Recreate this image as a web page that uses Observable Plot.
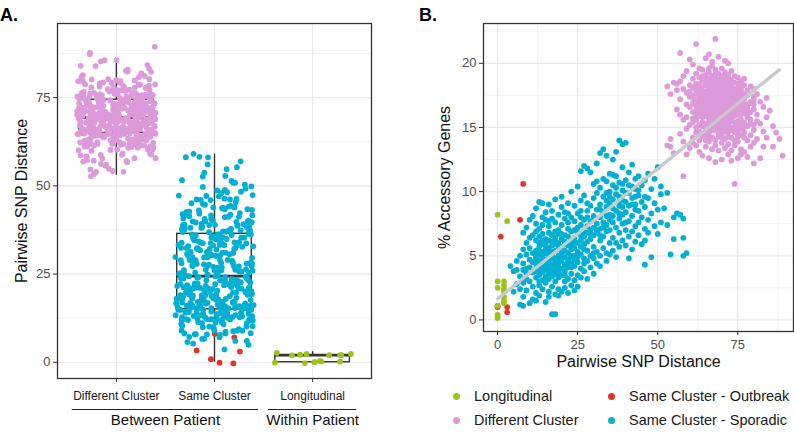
<!DOCTYPE html>
<html><head><meta charset="utf-8">
<script src="https://cdn.jsdelivr.net/npm/d3@7"></script>
<script src="https://cdn.jsdelivr.net/npm/@observablehq/plot@0.6"></script>
<style>
body{margin:0;background:#fff;font-family:"Liberation Sans",Arial,sans-serif;}
#wrap{position:relative;width:794px;height:436px;overflow:hidden;background:#fff;}
.lg{position:absolute;left:453px;top:384px;display:grid;grid-template-columns:155px auto;grid-template-rows:24px 24px;grid-auto-flow:column;font-size:14.5px;color:#1a1a1a;}
.lg div{display:flex;align-items:center;height:24px;white-space:nowrap;}
.lg span.d{display:inline-block;width:7px;height:7px;border-radius:50%;margin-right:14px;}
.pl{position:absolute;font-weight:bold;font-size:18px;line-height:1;color:#000;}
</style></head><body><div id="wrap"></div>
<script>
// ---------------- data ----------------
const categories = ["Different Cluster", "Same Cluster", "Longitudinal"];
const groupLabels = ["Between Patient", "Within Patient"];
const groupFrom = ["Different Cluster", "Longitudinal"];
const groupTo = ["Same Cluster", "Longitudinal"];
const seriesNames = ["Longitudinal", "Different Cluster", "Same Cluster - Outbreak", "Same Cluster - Sporadic"];
const seriesCategory = ["Longitudinal", "Different Cluster", "Same Cluster", "Same Cluster"];

// boxplot statistics (Pairwise SNP distance) per category
const boxLow = [53, 0, 0];
const boxQ1 = [65, 15, 0];
const boxMedian = [69.3, 24.4, 2];
const boxQ3 = [74.4, 36.4, 2];
const boxHigh = [86, 59, 3];

// fitted line in panel B
const fitSnp = [0, 88];
const fitAcc = [1.63, 19.5];

// [pairwise SNP distance, % accessory genes]
const longitudinal = [[0,8.2],[0,3.0],[0,2.5],[0,1.1],[0,0.4],[0,0.3],[0,0.15],[2,3.0],[2,2.7],[2,2.4],[2,2.2],[2,1.8],[2,1.5],[2,1.3],[3,7.7]];
const sameClusterOutbreak = [[0,1.1],[0,1.0],[1,6.5],[3,1.0],[3,0.6],[7,7.8],[8,10.6]];
const differentCluster = [
[53,18.2],[53,13.6],[54,17.6],[54,14.1],[55,18.5],[55,13.0],[56,16.4],[56,17.9],[54,13.5],[56,18.4],
[57,20.8],[57,17.2],[57,14.5],[58,11.2],[58,18.0],[58,15.6],[58,13.9],[59,19.4],[59,16.8],[59,14.9],[59,17.7],[60,20.3],[60,15.2],[60,18.3],[60,13.4],[57,16.0],[58,19.0],[59,12.9],[60,16.6],[57,18.6],[60,17.4],[59,15.8],
[61,16.9],[61,18.8],[61,14.2],[61,17.5],[61,15.7],[62,21.5],[62,17.1],[62,13.6],[62,18.4],[62,16.3],[62,15.0],[63,19.6],[63,16.8],[63,14.7],[63,18.0],[63,17.3],[63,13.1],[64,19.0],[64,16.1],[64,15.4],[64,17.8],[64,18.7],[64,14.3],[61,19.9],[62,16.7],[63,15.9],[64,16.9],[61,13.8],[62,19.2],[63,17.7],[64,12.8],[61,16.2],[62,14.6],[63,18.9],[64,17.2],[63,16.0],[62,17.9],[64,15.8],[61,18.1],[63,15.2],
[65,17.4],[65,15.9],[65,19.1],[65,14.4],[65,16.7],[65,18.3],[65,13.5],[65,17.0],[65,16.2],[65,15.1],[65,18.8],[65,16.4],[65,20.4],[65,14.9],[65,17.8],
[66,20.7],[66,16.6],[66,18.1],[66,15.3],[66,17.2],[66,13.9],[66,16.0],[66,19.3],[66,17.7],[66,14.6],[66,16.9],[66,18.5],[66,15.7],[66,12.6],[66,17.5],[66,16.3],
[67,19.8],[67,16.4],[67,17.9],[67,15.0],[67,18.6],[67,14.2],[67,16.8],[67,17.3],[67,13.3],[67,20.1],[67,15.6],[67,18.2],[67,16.1],[67,17.6],[67,19.0],
[68,21.9],[68,17.0],[68,15.5],[68,18.7],[68,16.5],[68,14.0],[68,19.5],[68,17.4],[68,15.8],[68,13.6],[68,18.0],[68,16.7],[68,17.8],[68,12.3],[68,16.0],[68,18.9],
[69,17.2],[69,15.4],[69,18.4],[69,16.6],[69,14.3],[69,19.2],[69,16.0],[69,17.7],[69,15.0],[69,18.0],[69,13.2],[69,16.9],[69,20.5],[69,17.4],[69,15.8],[69,16.3],
[70,16.8],[70,18.6],[70,14.8],[70,17.3],[70,15.6],[70,19.6],[70,16.2],[70,17.9],[70,13.8],[70,18.3],[70,15.1],[70,16.5],[70,12.5],[70,17.1],[70,19.0],[70,16.0],[70,14.4],
[71,17.6],[71,15.3],[71,18.8],[71,16.4],[71,14.1],[71,17.0],[71,19.3],[71,15.9],[71,16.9],[71,18.1],[71,13.4],[71,17.4],[71,15.6],[71,16.1],[71,20.2],[71,14.7],
[72,20.0],[72,16.7],[72,18.5],[72,15.2],[72,17.2],[72,13.7],[72,16.3],[72,18.9],[72,14.9],[72,17.7],[72,16.0],[72,15.5],[72,12.9],[72,17.9],[72,16.5],[72,19.1],[72,14.3],
[73,16.9],[73,18.2],[73,15.0],[73,17.5],[73,14.2],[73,16.3],[73,19.4],[73,15.7],[73,17.1],[73,13.2],[73,16.6],[73,18.7],[73,12.4],
[74,17.3],[74,15.4],[74,18.0],[74,16.1],[74,10.6],[74,14.6],[74,17.8],[74,16.8],[74,13.6],[74,19.0],[74,15.9],[74,17.0],[74,14.0],
[75,16.4],[75,18.4],[75,15.2],[75,17.4],[75,13.9],[75,16.0],[75,18.9],[75,14.7],[75,17.1],[75,12.6],[75,16.7],[75,15.5],[75,17.9],
[76,17.6],[76,15.0],[76,18.1],[76,16.2],[76,14.4],[76,17.0],[76,13.3],[76,16.6],[76,18.6],[76,15.6],[76,12.9],[76,17.3],[76,14.9],
[77,16.1],[77,18.3],[77,14.6],[77,17.2],[77,15.4],[77,13.1],[77,16.8],[77,18.8],
[78,15.8],[78,17.5],[78,14.0],[78,16.5],[78,12.7],[78,17.9],[78,15.1],
[79,16.9],[79,14.4],[79,18.2],[79,15.6],[79,13.5],[79,17.0],[79,16.2],
[80,15.2],[80,17.4],[80,13.8],[80,16.4],[80,12.2],[80,18.0],[80,14.8],[80,16.8],
[81,16.0],[81,14.1],[81,17.6],[82,15.3],[82,12.6],[82,17.0],[83,16.6],[83,14.7],[83,13.5],[84,15.8],[84,17.3],[84,14.2],
[85,16.3],[86,13.5],[86,15.1],[87,14.6],[88,14.1],[89,12.8],
[62,17.6],[63,16.4],[64,18.2],[65,16.0],[66,17.0],[67,15.4],[68,16.9],[69,17.9],[70,15.9],[71,16.6],
[72,17.4],[73,15.5],[74,16.5],[75,17.7],[76,16.0],[77,15.0],[63,18.4],[64,15.1],[65,17.3],[66,18.8],
[67,16.6],[68,14.8],[69,16.1],[70,18.1],[71,17.2],[72,15.8],[73,17.9],[74,15.0],[75,16.2],[76,18.3],
[62,15.6],[63,17.1],[64,16.6],[65,18.5],[66,15.5],[67,17.1],[68,18.3],[69,15.6],[70,17.0],[71,14.9],[72,16.9],[73,16.1],[74,18.5],[75,15.0],[76,16.9],[77,17.6],[78,16.1],
[66,16.1],[67,18.9],[68,15.2],[69,18.7],[70,16.4],[71,18.4],[72,14.6],[73,17.2],[74,16.3],[75,14.3],
[65,15.3],[66,19.6],[67,14.8],[68,17.6],[69,14.6],[70,17.6],[71,16.0],[72,18.2],[73,14.8],
[64,17.5],[65,16.9],[66,14.3],[67,17.8],[68,16.2],[69,17.0],[70,15.3],[71,17.9],[72,15.0],
[60,17.8],[61,15.4],[62,18.1],[78,16.8],[79,15.3],[80,17.1],[81,15.5],[77,14.2],[76,15.3],
[66,17.9],[67,16.3],[68,19.2],[69,15.3],[70,18.8],[71,15.7],[72,16.1],[73,18.6],
[65,14.0],[64,19.5],[63,14.0],[69,16.7],[70,14.2],[71,19.0],[68,15.1],[67,15.9],[66,16.8],
[74,17.5],[75,18.1],[73,15.9],[72,17.0],[71,16.8],[70,16.9],[69,18.5],[68,17.2],[67,18.4],[66,15.0],[65,17.6],[64,16.3],[63,17.0],[62,16.0],[61,17.3],
[74,14.8],[75,16.8],[76,17.9],[77,16.4]
];
const sameClusterSporadic = [
[4,4.2],[5,3.8],[5,2.2],[6,3.9],[6,2.8],[6,4.6],[7,1.2],[7,3.4],[7,5.0],[7,2.4],
[8,1.8],[8,3.9],[8,5.5],[8,2.9],[8,6.8],[8,4.4],[8,1.1],[9,3.2],[9,5.1],[9,4.0],[9,7.2],[9,2.3],[9,6.0],[9,3.6],
[10,4.7],[10,1.3],[10,6.4],[10,3.0],[10,5.6],[10,7.8],[10,4.1],[11,8.1],[11,3.7],[11,5.2],[11,2.6],[11,6.6],[11,4.5],[11,1.6],
[12,4.0],[12,6.9],[12,2.1],[12,5.4],[12,3.3],[12,7.5],[12,4.8],[12,1.5],[12,6.2],[12,3.8],[12,5.0],[12,8.7],
[13,4.3],[13,6.0],[13,2.7],[13,5.7],[13,3.5],[13,7.1],[13,4.6],[13,9.2],[13,3.0],[13,6.5],[13,5.1],[13,1.9],[13,4.0],
[14,5.3],[14,3.1],[14,6.7],[14,4.2],[14,8.0],[14,2.4],[14,5.9],[14,3.7],[14,7.4],[14,4.9],[14,9.1],[14,4.5],
[15,4.1],[15,6.3],[15,2.9],[15,5.5],[15,3.4],[15,7.8],[15,4.7],[15,1.4],[15,6.0],[15,3.9],[15,5.2],[15,8.4],[15,4.4],
[16,4.6],[16,6.8],[16,3.2],[16,5.6],[16,2.2],[16,7.3],[16,4.0],[16,5.1],[16,9.0],[16,3.6],[16,6.2],[16,4.9],[16,1.8],
[17,0.45],[17,5.3],[17,3.8],[17,6.6],[17,4.3],[17,7.9],[17,2.6],[17,5.8],[17,3.4],[17,4.8],[17,8.5],[17,6.1],
[18,0.45],[18,4.5],[18,6.9],[18,3.0],[18,5.4],[18,4.1],[18,7.6],[18,2.0],[18,5.9],[18,3.6],[18,9.4],[18,4.8],[18,6.4],
[19,5.0],[19,3.3],[19,7.0],[19,4.4],[19,6.0],[19,2.4],[19,8.2],[19,5.5],[19,3.9],[19,4.7],[19,6.7],[19,1.9],
[20,5.2],[20,7.4],[20,3.5],[20,4.6],[20,6.3],[20,2.2],[20,8.8],[20,5.7],[20,4.0],[20,9.6],
[21,4.3],[21,6.6],[21,3.0],[21,5.4],[21,7.9],[21,4.9],[21,2.5],[21,6.1],[21,3.8],[21,8.4],
[22,5.8],[22,4.1],[22,7.1],[22,3.2],[22,6.5],[22,4.7],[22,9.1],[22,5.2],[22,2.1],[22,7.6],
[23,4.4],[23,6.9],[23,3.6],[23,5.5],[23,8.0],[23,4.9],[23,2.7],[23,6.2],[23,10.0],[23,5.0],
[24,5.6],[24,7.7],[24,4.2],[24,6.4],[24,3.1],[24,8.9],[24,5.0],[24,2.3],[24,7.0],
[25,6.0],[25,4.5],[25,8.3],[25,5.3],[25,10.4],[25,3.5],[25,6.8],[25,4.9],[25,2.6],
[26,5.7],[26,7.4],[26,4.0],[26,9.3],[26,6.2],[26,3.3],[26,8.0],[26,5.1],[26,11.6],
[27,12.0],[27,6.5],[27,4.4],[27,7.8],[27,5.5],[27,9.7],[27,3.8],[27,6.9],[27,4.8],
[28,6.1],[28,8.5],[28,4.6],[28,7.3],[28,11.8],[28,5.4],[28,3.2],[28,9.1],
[29,7.0],[29,5.0],[29,8.9],[29,6.3],[29,11.5],[29,4.1],[29,7.7],
[30,6.6],[30,9.5],[30,4.8],[30,8.1],[30,5.7],[30,10.6],[30,3.6],[30,7.2],
[31,7.5],[31,5.3],[31,9.9],[31,6.8],[31,8.6],[31,4.4],[31,12.2],
[32,8.0],[32,6.2],[32,10.3],[32,5.0],[32,9.0],[32,7.1],[32,13.0],[32,4.2],
[33,13.3],[33,7.6],[33,9.6],[33,5.6],[33,8.4],[33,11.0],[33,6.5],
[34,8.8],[34,6.9],[34,10.8],[34,5.2],[34,9.3],[34,7.4],[34,12.8],[34,4.6],
[35,9.1],[35,7.0],[35,11.4],[35,6.0],[35,8.2],[35,10.0],[35,5.1],
[36,8.7],[36,6.4],[36,10.5],[36,7.6],[36,12.5],[36,5.4],[36,9.4],
[37,9.8],[37,7.2],[37,11.2],[37,6.0],[37,8.5],[37,13.1],[37,4.9],
[38,14.0],[38,8.9],[38,6.8],[38,10.7],[38,7.9],[38,9.6],[38,5.7],
[39,10.1],[39,7.5],[39,11.9],[39,6.2],[39,8.8],[39,9.3],[39,13.7],
[40,13.8],[40,9.2],[40,7.0],[40,10.9],[40,5.8],[40,8.4],
[41,9.9],[41,7.7],[41,11.5],[41,6.5],[41,8.9],[41,4.8],
[42,10.4],[42,8.1],[42,12.1],[42,6.9],[42,9.5],[42,5.5],
[43,9.0],[43,7.3],[43,11.0],[43,10.2],[43,6.1],[43,8.6],
[44,9.7],[44,7.6],[44,11.2],[44,6.6],[44,8.5],[45,10.5],[45,8.0],[45,5.9],[45,9.2],
[46,4.3],[46,8.8],[46,10.9],[46,7.1],[46,6.2],[47,9.5],[47,7.8],[47,11.4],[47,6.8],
[48,4.9],[48,8.3],[48,10.2],[49,9.1],[49,7.3],[49,11.0],[50,11.9],[50,8.6],[50,6.7],[51,9.8],[51,7.6],[51,10.4],
[52,8.7],[53,7.4],[53,9.9],[54,5.1],[55,8.0],[55,6.3],
[56,8.3],[57,8.2],[58,7.9],[58,6.4],[58,5.0],[59,5.2],
[12,4.4],[13,5.3],[14,3.9],[15,5.8],[16,4.3],[17,5.0],[18,3.9],[19,5.8],[20,4.8],[21,5.9],[22,4.5],[23,5.8],[24,4.7],[25,7.2],[26,6.6],[27,5.9],[14,6.2],[15,3.2],[16,5.4],[17,4.1],[18,6.1],[19,4.1],[20,6.7],[21,3.5],[22,6.0],[23,4.1],[13,3.8],[16,7.7],[19,3.6],[22,8.3],
[28,8.0],[29,6.7],[30,7.8],[31,7.0],[32,8.6],[33,7.2],[34,8.1],[35,9.6],[36,8.1],[37,10.3],[38,9.2],[39,8.2],[40,9.9],[41,10.5],[42,9.0],[43,9.6],[30,5.2],[32,6.6],[34,9.9],[36,11.3],[38,8.3],[40,7.6],[26,8.5],[24,6.0],[28,6.8],[31,10.8],[35,7.8],[39,10.6],[44,10.1],[46,9.6]
];

// ---------------- styling ----------------
const seriesColors = ["#9CC31B", "#DC9ADA", "#E4322A", "#00AFD2"];
const FONT = "Liberation Sans, Arial, Helvetica, sans-serif";
const gridMajor = "#e7e7ec", gridMinor = "#f0f0f3", ink = "#333333";

// ---------------- table ----------------
const seriesData = {"Longitudinal": longitudinal, "Different Cluster": differentCluster,
  "Same Cluster - Outbreak": sameClusterOutbreak, "Same Cluster - Sporadic": sameClusterSporadic};
const drawOrder = ["Same Cluster - Outbreak", "Longitudinal", "Same Cluster - Sporadic", "Different Cluster"];
// deterministic jitter offsets (layout only, like geom_jitter with width/height 0.4)
const hash = (i, s) => { const v = Math.sin(i * 12.9898 + s * 78.233) * 43758.5453; return v - Math.floor(v); };
const rows = [];
for (const s of drawOrder) {
  const cat = categories.indexOf(seriesCategory[seriesNames.indexOf(s)]) + 1;
  for (const [snp, acc] of seriesData[s]) {
    const i = rows.length + 1;
    rows.push({series: s, cat, snp, acc, jx: cat + (hash(i, 1) - 0.5) * 0.8, jy: snp + (hash(i, 2) - 0.5) * 0.8});
  }
}
const boxes = categories.map((c, i) => ({x: i + 1, low: boxLow[i], q1: boxQ1[i], med: boxMedian[i], q3: boxQ3[i], high: boxHigh[i]}));
const groups = groupLabels.map((g, i) => {
  const a = categories.indexOf(groupFrom[i]) + 1, b = categories.indexOf(groupTo[i]) + 1;
  return {label: g, x1: a - 0.45, x2: b + 0.45, mid: (a + b) / 2};
});
const fit = fitSnp.map((x, i) => ({snp: x, acc: fitAcc[i]}));
const color = {domain: seriesNames, range: seriesColors};

const wrap = document.getElementById("wrap");

// ---------------- Panel A ----------------
const yA = [-4.6, 96];
const plotA = Plot.plot({
  width: 380, height: 436, marginLeft: 57, marginRight: 9, marginTop: 23, marginBottom: 58,
  style: {fontFamily: FONT, background: "transparent", overflow: "visible"},
  x: {domain: [0.4, 3.6], label: null},
  y: {domain: yA, label: null},
  color,
  marks: [
    Plot.ruleY([12.5, 37.5, 62.5, 87.5], {stroke: gridMinor, strokeWidth: 0.8}),
    Plot.ruleY([0, 25, 50, 75], {stroke: gridMajor, strokeWidth: 1.2}),
    Plot.ruleX([1, 2, 3], {stroke: gridMajor, strokeWidth: 1.2}),
    Plot.ruleX(boxes, {x: "x", y1: "low", y2: "q1", stroke: ink, strokeWidth: 1.4}),
    Plot.ruleX(boxes, {x: "x", y1: "q3", y2: "high", stroke: ink, strokeWidth: 1.4}),
    Plot.rect(boxes, {x1: d => d.x - 0.38, x2: d => d.x + 0.38, y1: "q1", y2: "q3", fill: "white", stroke: ink, strokeWidth: 1.4}),
    Plot.ruleY(boxes, {y: "med", x1: d => d.x - 0.38, x2: d => d.x + 0.38, stroke: ink, strokeWidth: 2.8}),
    Plot.dot(rows, {x: "jx", y: "jy", fill: "series", r: 2.9}),
    Plot.frame({stroke: ink, strokeWidth: 1.3}),
    Plot.axisY({ticks: [0, 25, 50, 75], tickSize: 4, tickPadding: 3, fontSize: 13, fill: "#4d4d4d", stroke: ink, label: null}),
    Plot.axisX({ticks: [1, 2, 3], tickFormat: d => categories[d - 1], tickSize: 4, tickPadding: 8.5, fontSize: 12, fill: "#1a1a1a", stroke: ink, label: null}),
    Plot.ruleY(groups, {y: () => yA[0], x1: "x1", x2: "x2", dy: 31, stroke: "#222", strokeWidth: 1}),
    Plot.text(groups, {x: "mid", text: "label", frameAnchor: "bottom", lineAnchor: "middle", dy: 42, fontSize: 15, fill: "#111"}),
    Plot.text(["Pairwise SNP Distance"], {text: d => d, frameAnchor: "left", textAnchor: "middle", lineAnchor: "middle", rotate: -90, dx: -36, fontSize: 16, fill: "#111"})
  ]
});
plotA.style.position = "absolute"; plotA.style.left = "0px"; plotA.style.top = "0px";
wrap.appendChild(plotA);

// ---------------- Panel B ----------------
const plotB = Plot.plot({
  width: 394, height: 380, marginLeft: 83, marginRight: 1, marginTop: 23, marginBottom: 49,
  style: {fontFamily: FONT, background: "transparent", overflow: "visible"},
  x: {domain: [-4.4, 92.4], label: null},
  y: {domain: [-0.9, 23.1], label: null},
  color,
  marks: [
    Plot.ruleX([12.5, 37.5, 62.5, 87.5], {stroke: gridMinor, strokeWidth: 0.8}),
    Plot.ruleY([2.5, 7.5, 12.5, 17.5, 22.5], {stroke: gridMinor, strokeWidth: 0.8}),
    Plot.ruleX([0, 25, 50, 75], {stroke: gridMajor, strokeWidth: 1.2}),
    Plot.ruleY([0, 5, 10, 15, 20], {stroke: gridMajor, strokeWidth: 1.2}),
    Plot.dot(rows, {x: "snp", y: "acc", fill: "series", r: 2.9}),
    Plot.line(fit, {x: "snp", y: "acc", stroke: "#c8c8cd", strokeWidth: 3.3}),
    Plot.frame({stroke: ink, strokeWidth: 1.3}),
    Plot.axisY({ticks: [0, 5, 10, 15, 20], tickSize: 4, tickPadding: 3, fontSize: 13, fill: "#4d4d4d", stroke: ink, label: null}),
    Plot.axisX({ticks: [0, 25, 50, 75], tickSize: 4, tickPadding: 3.8, fontSize: 13, fill: "#4d4d4d", stroke: ink, label: null}),
    Plot.text(["Pairwise SNP Distance"], {text: d => d, frameAnchor: "bottom", textAnchor: "middle", lineAnchor: "middle", dy: 30.6, fontSize: 16, fill: "#111"}),
    Plot.text(["% Accessory Genes"], {text: d => d, frameAnchor: "left", textAnchor: "middle", lineAnchor: "middle", rotate: -90, dx: -39, fontSize: 16, fill: "#111"})
  ]
});
plotB.style.position = "absolute"; plotB.style.left = "400px"; plotB.style.top = "0px";
wrap.appendChild(plotB);

// ---------------- panel letters & legend ----------------
for (const [t, l] of [["A.", 0], ["B.", 419]]) {
  const d = document.createElement("div");
  d.className = "pl"; d.textContent = t; d.style.left = l + "px"; d.style.top = "6px";
  wrap.appendChild(d);
}
const lg = document.createElement("div");
lg.className = "lg";
seriesNames.forEach((s, i) => {
  const it = document.createElement("div");
  const dot = document.createElement("span");
  dot.className = "d"; dot.style.background = seriesColors[i];
  it.appendChild(dot); it.appendChild(document.createTextNode(s));
  lg.appendChild(it);
});
wrap.appendChild(lg);
</script>
</body></html>
